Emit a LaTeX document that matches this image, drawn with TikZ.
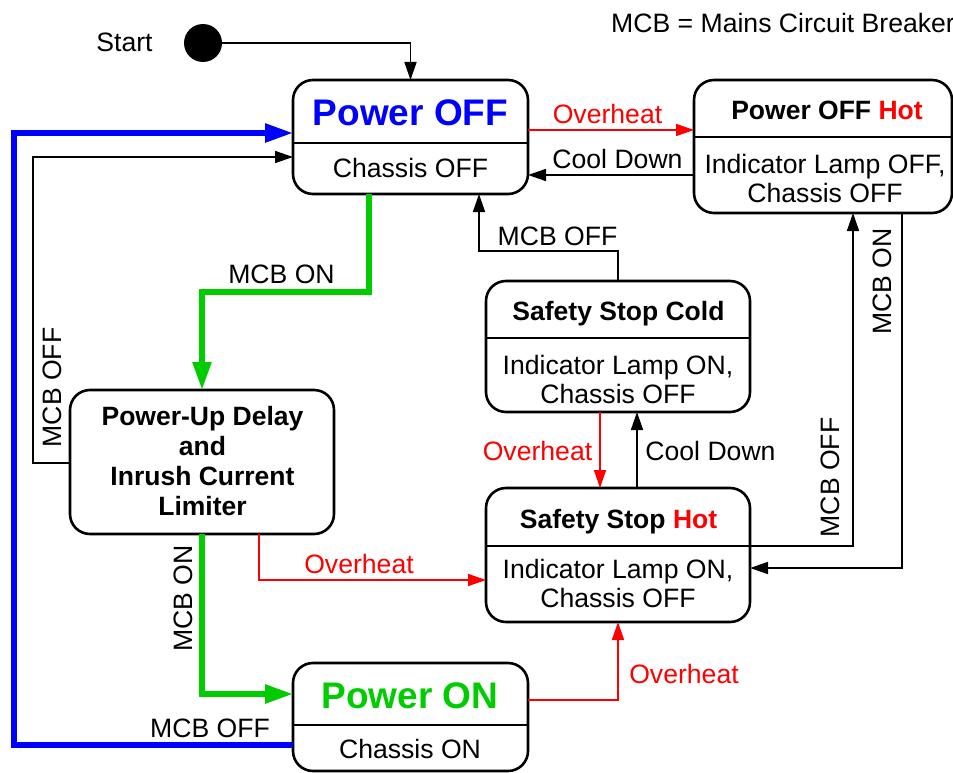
\documentclass[tikz,border=0pt]{standalone}
\usepackage{fontspec}
\setmainfont{Liberation Sans}
\usetikzlibrary{arrows.meta}
\definecolor{myblue}{RGB}{0,0,255}
\definecolor{mygreen}{RGB}{0,204,0}
\definecolor{myred}{RGB}{255,0,0}
\begin{document}
\begin{tikzpicture}[x=1pt,y=-1pt,
  state/.style={draw, line width=2.6pt, rounded corners=20pt, inner sep=0pt, outer sep=0pt},
  txt/.style={font=\fontsize{26.6}{29}\selectfont, inner sep=0pt, anchor=base},
  ttl/.style={font=\fontsize{26.5}{29}\selectfont\bfseries, inner sep=0pt, anchor=base},
  big/.style={font=\fontsize{37}{40}\selectfont\bfseries, inner sep=0pt, anchor=base},
  rlbl/.style={font=\fontsize{26.6}{29}\selectfont, inner sep=0pt, rotate=90, anchor=center},
  divider/.style={line width=2.6pt},
  conn/.style={line width=1.6pt, -{Triangle[length=18pt,width=12pt]}},
  heavy/.style={line width=5.5pt, -{Triangle[length=28pt,width=18pt]}},
]
\useasboundingbox (0,0) rectangle (953,773);

% state boxes
\node[state, minimum width=235pt, minimum height=114pt] (poff) at (410.5,137) {};
\node[state, minimum width=258pt, minimum height=133pt] (pofh) at (823,146.5) {};
\node[state, minimum width=264pt, minimum height=144pt] (pud) at (202,462) {};
\node[state, minimum width=264pt, minimum height=131pt] (ssc) at (618,346.5) {};
\node[state, minimum width=264pt, minimum height=134pt] (ssh) at (618,555) {};
\node[state, minimum width=235pt, minimum height=108pt] (pon) at (410.5,717) {};
\node[circle, fill=black, minimum size=38pt, inner sep=0pt, outer sep=0pt] (start) at (203,43) {};

% dividers
\draw[divider] ([yshift=-63pt]poff.north west) -- ([yshift=-63pt]poff.north east);
\draw[divider] ([yshift=-57pt]pofh.north west) -- ([yshift=-57pt]pofh.north east);
\draw[divider] ([yshift=-57pt]ssc.north west) -- ([yshift=-57pt]ssc.north east);
\draw[divider] ([yshift=-58pt]ssh.north west) -- ([yshift=-58pt]ssh.north east);
\draw[divider] ([yshift=-62pt]pon.north west) -- ([yshift=-62pt]pon.north east);

% box texts
\node[big, text=myblue] (poffT) at (410.5,126) {Power OFF};
\node[txt] (poffB) at (410.5,177) {Chassis OFF};
\node[ttl] (pofhT) at (827,120) {Power OFF \textcolor{myred}{Hot}};
\node[txt] (pofhB1) at (825,173) {Indicator Lamp OFF,};
\node[txt] (pofhB2) at (825,202) {Chassis OFF};
\node[ttl] (pud1) at (202.5,425) {Power-Up Delay};
\node[ttl] (pud2) at (202.5,455) {and};
\node[ttl] (pud3) at (202.5,485) {Inrush Current};
\node[ttl] (pud4) at (202.5,515) {Limiter};
\node[ttl] (sscT) at (618.5,320) {Safety Stop Cold};
\node[txt] (sscB1) at (618,374) {Indicator Lamp ON,};
\node[txt] (sscB2) at (618,403) {Chassis OFF};
\node[ttl] (sshT) at (618.5,528) {Safety Stop \textcolor{myred}{Hot}};
\node[txt] (sshB1) at (618,578) {Indicator Lamp ON,};
\node[txt] (sshB2) at (618,607) {Chassis OFF};
\node[big, text=mygreen] (ponT) at (410,708) {Power ON};
\node[txt] (ponB) at (410,758) {Chassis ON};
\node[txt] (startlbl) at (124.5,52) {Start};
\node[txt, anchor=base west] (legend) at (611,33) {MCB = Mains Circuit Breaker};

% helper coordinates
\coordinate (bl) at (14,745);
\coordinate (tl) at (14,133);
\coordinate (kl) at (33,463);
\coordinate (ktl) at (33,157);

% connectors
\draw[conn] (start.east) -| (poff.north);
\draw[conn, myred] ([yshift=-50pt]poff.north east) -- ([yshift=-50pt]pofh.north west);
\draw[conn] ([yshift=-95pt]pofh.north west) -- ([yshift=-95pt]poff.north east);
\draw[heavy, myblue] ([yshift=-82pt]pon.north west) -- (bl) -- (tl) -- ([yshift=-53pt]poff.north west);
\draw[conn] ([yshift=-73pt]pud.north west) -- (kl) -- (ktl) -- ([yshift=-77pt]poff.north west);
\draw[heavy, mygreen] ([xshift=-41.5pt]poff.south) -- ++(0,98) -| (pud.north);
\draw[heavy, mygreen] (pud.south) |- ([yshift=-31pt]pon.north west);
\draw[conn, myred] ([xshift=57pt]pud.south) |- ([yshift=-92pt]ssh.north west);
\draw[conn, myred] ([yshift=-37pt]pon.north east) -| (ssh.south);
\draw[conn] (ssc.north) -- ++(0,-30) -| ([xshift=68.5pt]poff.south);
\draw[conn, myred] ([xshift=-18pt]ssc.south) -- ([xshift=-18pt]ssh.north);
\draw[conn] ([xshift=19pt]ssh.north) -- ([xshift=19pt]ssc.south);
\draw[conn] ([yshift=-58pt]ssh.north east) -| ([xshift=30pt]pofh.south);
\draw[conn] ([xshift=79pt]pofh.south) |- ([yshift=-80pt]ssh.north east);

% connector labels
\node[txt, text=myred] (l1) at (607.5,124) {Overheat};
\node[txt] (l2) at (617.5,168) {Cool Down};
\node[txt] (l3) at (281.5,283) {MCB ON};
\node[txt] (l4) at (557.5,245) {MCB OFF};
\node[txt, text=myred] (l5) at (537.5,460) {Overheat};
\node[txt] (l6) at (710.5,460) {Cool Down};
\node[txt, text=myred] (l7) at (359,573) {Overheat};
\node[txt, text=myred] (l8) at (684,683) {Overheat};
\node[txt] (l9) at (210,737) {MCB OFF};
\node[rlbl] (l10) at (52,387.5) {MCB OFF};
\node[rlbl] (l11) at (183.5,598.5) {MCB ON};
\node[rlbl] (l12) at (830,477.5) {MCB OFF};
\node[rlbl] (l13) at (882.5,281.5) {MCB ON};
\end{tikzpicture}
\end{document}
